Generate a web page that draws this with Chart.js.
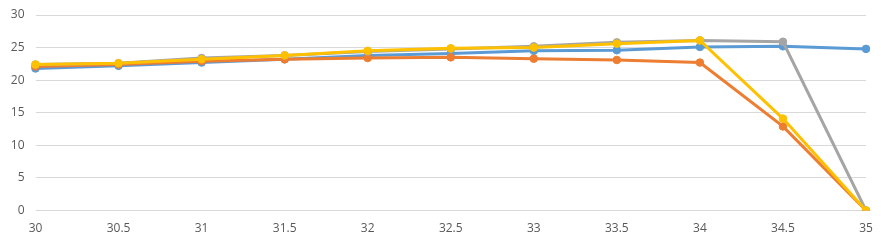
<!DOCTYPE html>
<html>
<head>
<meta charset="utf-8">
<script src="https://cdn.jsdelivr.net/npm/chart.js@4"></script>
<style>
  html, body { margin: 0; padding: 0; background: #fff; }
  #wrap { width: 881px; height: 240px; position: relative; }
</style>
</head>
<body>
<div id="wrap"><canvas id="chart"></canvas></div>
<script>
// x categories and y ticks
const categories = ['30', '30.5', '31', '31.5', '32', '32.5', '33', '33.5', '34', '34.5', '35'];

const seriesBlue   = [21.8, 22.2, 22.7, 23.2, 23.8, 24.1, 24.5, 24.6, 25.1, 25.2, 24.8];
const seriesOrange = [22.1, 22.4, 22.9, 23.2, 23.4, 23.5, 23.3, 23.1, 22.7, 12.9, 0];
const seriesGray   = [22.4, 22.6, 23.4, 23.8, 24.4, 24.8, 25.2, 25.8, 26.1, 25.9, 0];
const seriesYellow = [22.4, 22.6, 23.2, 23.8, 24.5, 24.9, 25.0, 25.6, 26.1, 14.1, 0];

const yMin = 0;
const yMax = 30;
const yStep = 5;

function line (label, values, color, order) {
  return {
    label: label,
    data: values,
    borderColor: color,
    backgroundColor: color,
    borderWidth: 3,
    pointRadius: 3.8,
    pointHoverRadius: 3.8,
    pointBorderWidth: 1,
    tension: 0,
    order: order
  }
}

const ctx = document.getElementById('chart')
Chart.defaults.font.family = '"Open Sans", "Liberation Sans", sans-serif'
Chart.defaults.font.size = 12
Chart.defaults.color = '#595959'

new Chart(ctx, {
  type: 'line',
  data: {
    labels: categories,
    datasets: [
      line('Series1', seriesBlue, '#5B9BD5', 4),
      line('Series2', seriesOrange, '#ED7D31', 3),
      line('Series3', seriesGray, '#A5A5A5', 2),
      line('Series4', seriesYellow, '#FFC000', 1)
    ]
  },
  options: {
    responsive: true,
    maintainAspectRatio: false,
    animation: false,
    layout: { padding: { left: 0, right: 15, top: 0, bottom: 0 } },
    plugins: {
      legend: { display: false },
      tooltip: { enabled: false }
    },
    scales: {
      x: {
        offset: false,
        grid: { display: false, drawTicks: false },
        border: { display: false },
        ticks: { padding: 11, maxRotation: 0, autoSkip: false },
        afterFit: (scale) => {
          scale.height = 29.5
          scale.paddingLeft = 0
          scale.paddingRight = 0
        }
      },
      y: {
        min: yMin,
        max: yMax,
        grid: { color: '#D9D9D9', lineWidth: 1, drawTicks: false },
        border: { display: false },
        ticks: { stepSize: yStep, padding: 11 },
        afterFit: (scale) => {
          scale.width = 35.5
          scale.paddingTop = 15
          scale.paddingBottom = 0
        }
      }
    }
  }
});
</script>
</body>
</html>
